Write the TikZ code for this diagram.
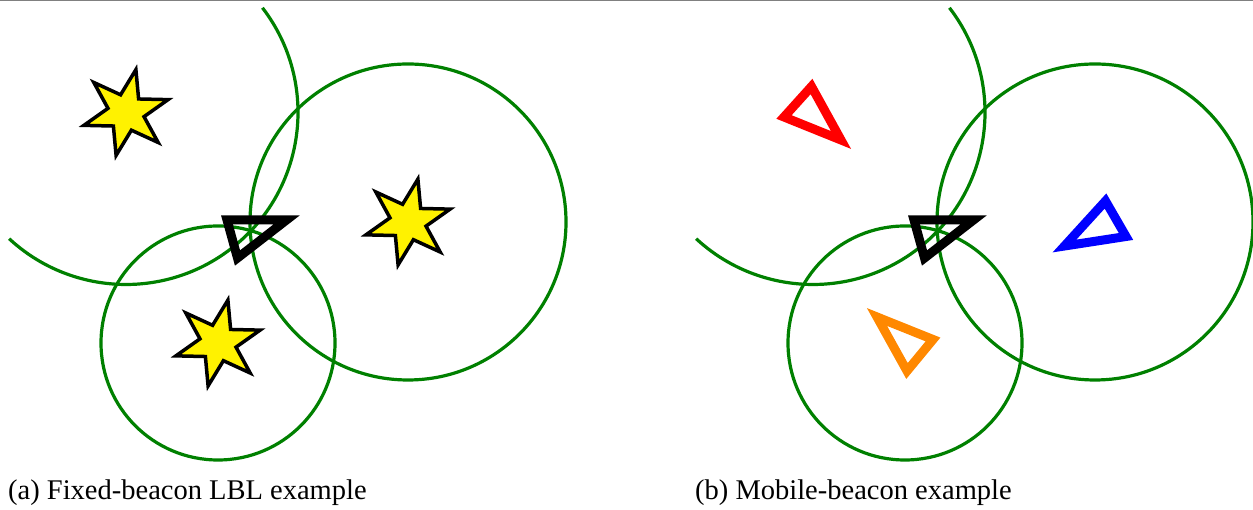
\documentclass[tikz,border=0pt]{standalone}
\usepackage{fontspec}
\setmainfont{Liberation Serif}
\definecolor{rangegreen}{RGB}{0,128,0}
\definecolor{myorange}{RGB}{255,136,0}
\definecolor{rulegray}{RGB}{128,128,128}
\tikzset{
  rangecircle/.style={draw=rangegreen, line width=3.2pt},
  beaconstar/.style={draw=black, fill=yellow, line width=3.5pt, line join=miter},
  beacontri/.style={line width=9pt, line join=miter},
  captiontext/.style={anchor=base west, inner sep=0pt, font=\fontsize{28.5}{34}\selectfont}
}
\newcommand{\sixstar}[1]{%
  \draw[beaconstar] (#1) +(77:44) -- +(107:18.5) -- +(137:44) -- +(167:18.5) -- +(197:44) -- +(227:18.5)
    -- +(257:44) -- +(287:18.5) -- +(317:44) -- +(347:18.5) -- +(17:44) -- +(47:18.5) -- cycle;}
\begin{document}
\begin{tikzpicture}[x=1pt,y=1pt]
\useasboundingbox (0,0) rectangle (1253,510);
\draw[rulegray, line width=1.5pt] (0,509.25) -- (1253,509.25);
% ---------- panel (a) ----------
\coordinate (aArc) at (126,397.5);
\coordinate (aSmall) at (218,167);
\coordinate (aBig) at (408,288);
\draw[rangecircle] (aArc) ++(37.5:172) arc[start angle=37.5, end angle=-132.8, radius=172];
\draw[rangecircle] (aSmall) circle[radius=117];
\draw[rangecircle] (aBig) circle[radius=158];
\sixstar{aArc}
\sixstar{aBig}
\sixstar{aSmall}
\coordinate (aT1) at (227,290);
\coordinate (aT2) at (286.5,290);
\coordinate (aT3) at (237.5,252);
\draw[beacontri, draw=black] (aT1) -- (aT2) -- (aT3) -- cycle;
\node[captiontext] (capa) at (8,10) {(a) Fixed-beacon LBL example};
% ---------- panel (b) ----------
\coordinate (bArc) at (813,397.5);
\coordinate (bSmall) at (905,167);
\coordinate (bBig) at (1095,288);
\draw[rangecircle] (bArc) ++(37.5:172) arc[start angle=37.5, end angle=-132.8, radius=172];
\draw[rangecircle] (bSmall) circle[radius=117];
\draw[rangecircle] (bBig) circle[radius=158];
\coordinate (bT1) at (914,290);
\coordinate (bT2) at (973.5,290);
\coordinate (bT3) at (924.5,252);
\draw[beacontri, draw=black] (bT1) -- (bT2) -- (bT3) -- cycle;
\coordinate (rT1) at (811.5,423.5);
\coordinate (rT2) at (784,393);
\coordinate (rT3) at (841,370);
\draw[beacontri, draw=red] (rT1) -- (rT2) -- (rT3) -- cycle;
\coordinate (uT1) at (1105.5,309);
\coordinate (uT2) at (1064.5,264);
\coordinate (uT3) at (1126,273.5);
\draw[beacontri, draw=blue] (uT1) -- (uT2) -- (uT3) -- cycle;
\coordinate (oT1) at (877,193);
\coordinate (oT2) at (933,170.5);
\coordinate (oT3) at (907,139);
\draw[beacontri, draw=myorange] (oT1) -- (oT2) -- (oT3) -- cycle;
\node[captiontext] (capb) at (695,10) {(b) Mobile-beacon example};
\end{tikzpicture}
\end{document}
